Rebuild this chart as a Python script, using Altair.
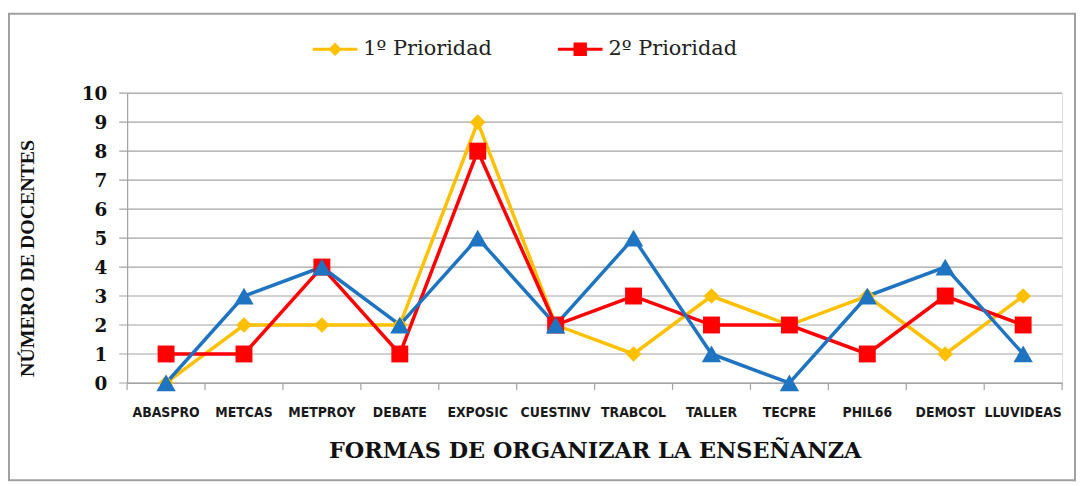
import altair as alt
import pandas as pd

categories = ["ABASPRO", "METCAS", "METPROY", "DEBATE", "EXPOSIC", "CUESTINV",
              "TRABCOL", "TALLER", "TECPRE", "PHIL66", "DEMOST", "LLUVIDEAS"]
series_names = ["1º Prioridad", "2º Prioridad", "3º Prioridad"]
prio1 = [0, 2, 2, 2, 9, 2, 1, 3, 2, 3, 1, 3]
prio2 = [1, 1, 4, 1, 8, 2, 3, 2, 2, 1, 3, 2]
prio3 = [0, 3, 4, 2, 5, 2, 5, 1, 0, 3, 4, 1]
y_ticks = list(range(0, 11))

colors = ["#FFC000", "#FF0000", "#1F74C2"]
shapes = ["diamond", "square", "triangle-up"]
sizes = [250, 290, 380]

rows = []
for name, vals in zip(series_names, [prio1, prio2, prio3]):
    for c, v in zip(categories, vals):
        rows.append({"cat": c, "serie": name, "val": v})
df = pd.DataFrame(rows)
cat_df = pd.DataFrame({"cat": categories})
tick_df = pd.DataFrame({"v": y_ticks})

W, H = 942, 292
GRID = "#a3a3a3"

xscale = alt.Scale(type="band", domain=categories, paddingInner=0, paddingOuter=0)
yscale = alt.Scale(domain=[0, 10], nice=False)
cscale = alt.Scale(domain=series_names, range=colors)

bar = "M-1,-0.07L1,-0.07L1,0.07L-1,0.07Z"
legend_paths = [
    bar + "M0,-0.3L0.3,0L0,0.3L-0.3,0Z",
    bar + "M-0.3,-0.3L0.3,-0.3L0.3,0.3L-0.3,0.3Z",
    bar + "M0,-0.3L0.3,0.25L-0.3,0.25Z",
]

x_axis = alt.Axis(
    title="FORMAS DE ORGANIZAR LA ENSEÑANZA",
    titleFont="DejaVu Serif", titleFontSize=22.5, titleFontWeight="bold",
    titleColor="#111111", titlePadding=20,
    labelFont="Liberation Sans Narrow, DejaVu Sans Condensed, sans-serif",
    labelFontSize=14, labelFontWeight="bold", labelColor="#1a1a1a",
    labelPadding=23, ticks=False, tickSize=0, labelAngle=0, bandPosition=0.5,
    domainColor=GRID, domainWidth=1.2, grid=False, labelOverlap=False,
)
y_axis = alt.Axis(
    title="NÚMERO DE DOCENTES",
    titleFont="Liberation Serif", titleFontSize=20, titleFontWeight="bold",
    titleColor="#111111", titleX=-90, titleY=166,
    labels=False, ticks=False, grid=False,
    domainColor=GRID, domainWidth=1.2,
)

leg = alt.Legend(
    title=None, values=series_names[:2], orient="none",
    legendX=187, legendY=-67, direction="horizontal", columns=2,
    columnPadding=66, labelFont="DejaVu Serif", labelFontSize=21,
    labelColor="#222222", labelOffset=6, symbolSize=2025,
    symbolStrokeWidth=0, padding=0,
)

X = alt.X("cat:N", scale=xscale, axis=x_axis, bandPosition=0.5, sort=categories)
Y = alt.Y("val:Q", scale=yscale, axis=y_axis)
C = alt.Color("serie:N", scale=cscale, legend=leg)

# horizontal gridlines (with small tick stub left of the axis) and y labels
grid = alt.Chart(tick_df).mark_rule(color=GRID, strokeWidth=1.2).encode(
    y=alt.Y("v:Q", scale=yscale, axis=y_axis),
    x=alt.value(-8), x2=alt.value(W),
)
ylabels = alt.Chart(tick_df).mark_text(
    align="right", baseline="middle", font="DejaVu Serif", fontSize=18.5,
    fontWeight="bold", color="#111111", dy=1
).encode(
    y=alt.Y("v:Q", scale=yscale, axis=y_axis),
    x=alt.value(-20),
    text=alt.Text("v:Q"),
)

base = alt.Chart(df)

lines = base.mark_line(strokeWidth=3.5).encode(x=X, y=Y, color=C, detail="serie:N")

point_layers = []
for name, shp, sz in zip(series_names, shapes, sizes):
    point_layers.append(
        base.transform_filter(alt.datum.serie == name).mark_point(
            filled=True, opacity=1, shape=shp, size=sz
        ).encode(x=X, y=Y, color=C)
    )

legend_layer = base.transform_filter("datum.val < 0").mark_point(
    filled=True, opacity=1
).encode(
    x=X, y=Y, color=C,
    shape=alt.Shape("serie:N", scale=alt.Scale(domain=series_names, range=legend_paths), legend=leg),
)

xticks = alt.Chart(cat_df).mark_rule(color=GRID, strokeWidth=1.2).encode(
    x=alt.X("cat:N", scale=xscale, axis=x_axis, bandPosition=0, sort=categories),
    y=alt.value(H),
    y2=alt.value(H + 7),
)
xtick_end = alt.Chart(alt.Data(values=[{}])).mark_rule(color=GRID, strokeWidth=1.2).encode(
    x=alt.value(W), y=alt.value(H), y2=alt.value(H + 7),
)

frame = alt.Chart(alt.Data(values=[{}])).mark_rect(
    fill=None, stroke="#a0a0a0", strokeWidth=2
).encode(
    x=alt.value(-119), x2=alt.value(955), y=alt.value(-80), y2=alt.value(390),
)

chart = alt.layer(frame, grid, ylabels, xticks, xtick_end, lines, *point_layers,
                  legend_layer).properties(
    width=W, height=H,
    autosize=alt.AutoSizeParams(type="none"),
    padding={"left": 120, "top": 84, "right": 14, "bottom": 100},
).configure_view(stroke=None).configure(background="white")

chart.save("out.html", embed_options={"renderer": "svg", "actions": False})
